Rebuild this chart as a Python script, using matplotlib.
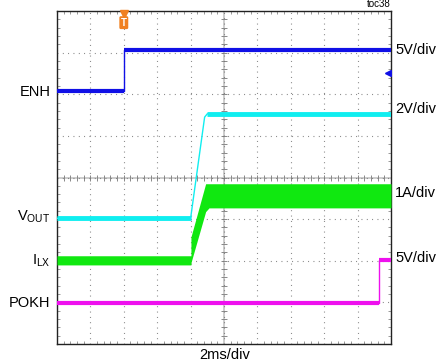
"""
Scope capture: ENH / VOUT / ILX / POKH start-up waveforms (toc38)
"""

import numpy as np
import matplotlib.pyplot as plt
from matplotlib.ticker import MultipleLocator

plt.rcParams['font.family'] = ['Liberation Sans', 'DejaVu Sans']
plt.rcParams['mathtext.fontset'] = 'custom'
plt.rcParams['mathtext.rm'] = 'Liberation Sans'
plt.rcParams['mathtext.it'] = 'Liberation Sans'

# time in divisions (2ms/div), level in divisions from the bottom of screen
enh_t = [0, 2.0, 2.0, 10]
enh_v = [6.08, 6.08, 7.07, 7.07]

vout_t = [0, 4.0, 4.42, 4.5, 10]
vout_v = [3.02, 3.02, 5.45, 5.53, 5.53]

ilx_t = [0, 4.01, 4.01, 4.45, 4.55, 10]
ilx_lo = [1.90, 1.90, 1.95, 3.18, 3.27, 3.27]
ilx_hi = [2.12, 2.12, 2.57, 3.85, 3.85, 3.85]

pokh_t = [0, 9.63, 9.63, 10]
pokh_v = [0.99, 0.99, 2.02, 2.02]

left_labels = ['ENH', r'V$_{\mathrm{OUT}}$', r'I$_{\mathrm{LX}}$', 'POKH']
left_pos = [6.06, 3.05, 2.0, 0.99]
right_labels = ['5V/div', '2V/div', '1A/div', '5V/div']
right_pos = [7.07, 5.65, 3.63, 2.07]

COLORS = {
    'enh': '#1010E6',
    'vout': '#10EEF0',
    'ilx': '#10E810',
    'pokh': '#EE10EE',
    'trig': '#F08020',
}


def trace(ax, t, v, color, thick=3.0):
    t = np.asarray(t)
    v = np.asarray(v)
    ax.plot(t, v, color=color, lw=1.0, zorder=3)
    for i in range(len(t) - 1):
        if v[i] == v[i + 1]:
            ax.plot(t[i:i + 2], v[i:i + 2], color=color, lw=thick,
                    solid_capstyle='butt', zorder=3)


fig = plt.figure(figsize=(4.38, 3.64), dpi=100)
ax = fig.add_axes([57 / 438, 20 / 364, 334 / 438, 333 / 364])
ax.set_xlim(0, 10)
ax.set_ylim(0, 8)

# graticule
ax.xaxis.set_major_locator(MultipleLocator(1))
ax.yaxis.set_major_locator(MultipleLocator(1))
ax.xaxis.set_minor_locator(MultipleLocator(0.2))
ax.yaxis.set_minor_locator(MultipleLocator(0.2))
ax.tick_params(which='both', direction='in', top=True, right=True,
               labelbottom=False, labelleft=False, color='#888888')
ax.tick_params(which='major', length=0)
ax.tick_params(which='minor', length=2.5, width=0.6)
ax.grid(True, which='major', color='#777777', lw=0.8, linestyle=(0, (0.8, 4.0)))
for s in ax.spines.values():
    s.set_color('#222222')
    s.set_linewidth(1.0)

ax.axhline(4, color='#cccccc', lw=1.4, zorder=1)
ax.axvline(5, color='#cccccc', lw=1.4, zorder=1)
minor = np.arange(0.2, 10, 0.2)
ax.plot(minor, np.full_like(minor, 4), '|', color='#888888', ms=4, mew=0.7, zorder=1)
minor_y = np.arange(0.2, 8, 0.2)
ax.plot(np.full_like(minor_y, 5), minor_y, '_', color='#888888', ms=4, mew=0.7, zorder=1)

# waveforms
trace(ax, enh_t, enh_v, COLORS['enh'])
trace(ax, vout_t, vout_v, COLORS['vout'], thick=3.5)
ax.fill_between(ilx_t, ilx_lo, ilx_hi, color=COLORS['ilx'], lw=0, zorder=3)
trace(ax, pokh_t, pokh_v, COLORS['pokh'])

# trigger marker and channel-1 offset marker
ax.plot([2.0], [7.93], marker='v', color=COLORS['trig'], ms=6, clip_on=False, zorder=5)
ax.text(2.0, 7.72, 'T', color='white', fontsize=7, fontweight='bold',
        ha='center', va='center', zorder=6,
        bbox=dict(boxstyle='round,pad=0.15', facecolor=COLORS['trig'], edgecolor='none'))
ax.plot([9.92], [6.51], marker='<', color=COLORS['enh'], ms=4, zorder=5)
ax.plot([9.92, 10.0], [6.51, 6.51], color=COLORS['enh'], lw=1, zorder=5)

# labels
for lab, y in zip(left_labels, left_pos):
    ax.text(-0.2, y, lab, fontsize=10.5, ha='right', va='center')
for lab, y in zip(right_labels, right_pos):
    ax.text(10.12, y, lab, fontsize=10.5, ha='left', va='center')

ax.text(0.503, -0.012, '2ms/div', transform=ax.transAxes, fontsize=10.5,
        ha='center', va='top')
ax.text(1.0, 1.005, 'toc38', transform=ax.transAxes, fontsize=7,
        ha='right', va='bottom')

plt.savefig('out.png', dpi=100)
plt.close()
